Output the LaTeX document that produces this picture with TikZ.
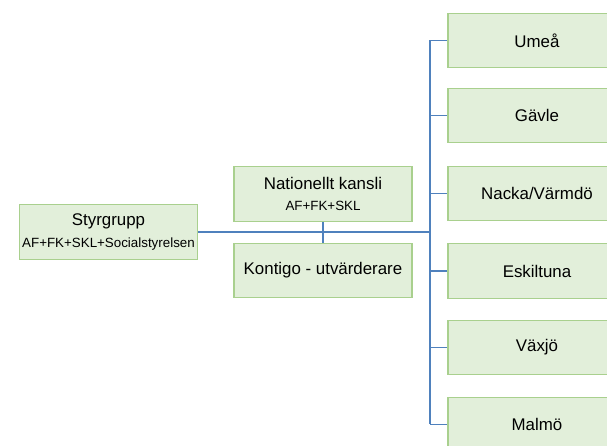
\documentclass[tikz,border=0pt]{standalone}
\usepackage{fontspec}
\setmainfont{Liberation Sans}
\definecolor{boxfill}{RGB}{226,239,218}
\definecolor{boxline}{RGB}{169,208,142}
\definecolor{linkblue}{RGB}{79,129,189}
\newcommand{\smalltxt}[1]{{\fontsize{9.5}{11}\selectfont #1}}
\begin{document}
\begin{tikzpicture}[x=0.025cm,y=-0.025cm,
        box/.style={draw=boxline,fill=boxfill,line width=.8pt,minimum width=4.45cm,minimum height=1.36cm,
            align=center,font=\fontsize{12}{15}\selectfont,inner sep=0pt},
        link/.style={draw=linkblue,line width=1.1pt}]
    \clip (0,0) rectangle (607,446);
    \fill[white] (0,0) rectangle (607,446);
    \node[box] (sty) at (108.5,232) {Styrgrupp\\\smalltxt{AF+FK+SKL+Socialstyrelsen}};
    \node[box] (kansli) at (323,194) {Nationellt kansli\\\smalltxt{AF+FK+SKL}};
    \node[box] (kontigo) at (323,270.5) {Kontigo - utvärderare};
    \coordinate (bus) at (430,232);
    \draw[link] (sty.east) -- (bus);
    \draw[link] (kansli.south) -- (kontigo.north);
    \foreach \name/\y [count=\i] in {Umeå/40.5,Gävle/115.5,Nacka\slash Värmdö/193.5,Eskiltuna/271,Växjö/347.5,Malmö/424.5}
    {
        \node[box] (city\i) at (537,\y) {\name};
        \draw[link] (bus |- city\i) -- (city\i.west);
    }
    \draw[link] (bus |- city1) -- (bus |- city6);
\end{tikzpicture}
\end{document}
